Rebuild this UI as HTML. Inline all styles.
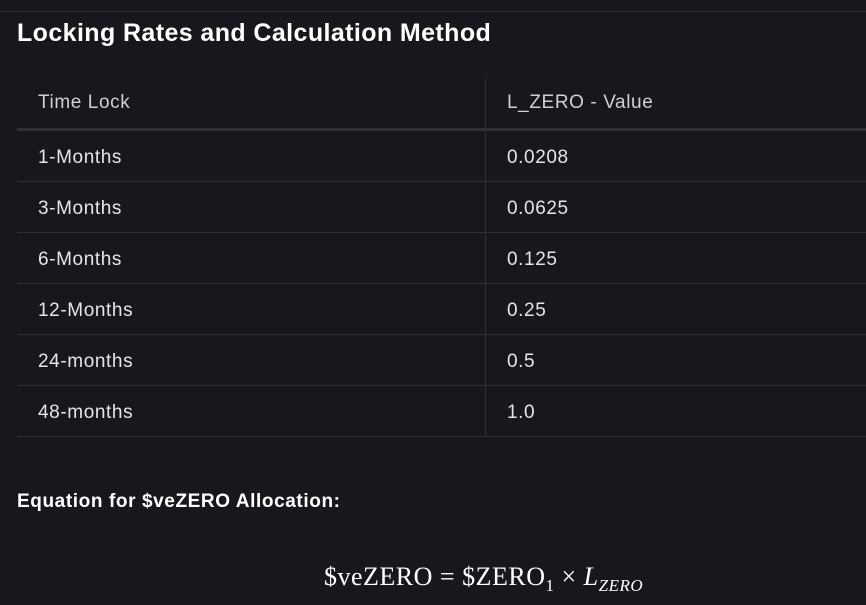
<!DOCTYPE html>
<html><head><style>
body{margin:0;width:866px;height:605px;background:#16181d;overflow:hidden;font-family:"Liberation Sans",sans-serif;color:#e6e6e6;position:relative}
.top{position:absolute;left:0;top:11px;width:866px;height:1px;background:#2e3138}
h1{position:absolute;left:17px;top:19px;margin:0;font-size:25px;font-weight:bold;color:#fff;letter-spacing:0.4px}
.vl{position:absolute;left:485px;top:78px;width:1px;height:358px;background:#2e3138}
.row{position:absolute;left:17px;width:849px;height:51px;border-bottom:1px solid #2e3138}
.row span{position:absolute;top:17px;font-size:19px;letter-spacing:0.6px}
.c1{left:21px}.c2{left:490px}
.hd{top:78px;height:50px;border-bottom:3px solid #2e3138;color:#cfd0d3}
.hd span{top:14px}
h2{position:absolute;left:17px;top:491px;margin:0;font-size:19px;font-weight:bold;color:#fff;letter-spacing:0.6px}
.eq{position:absolute;left:324px;top:562px;font-family:"Liberation Serif",serif;font-size:26px;color:#fff;white-space:nowrap;letter-spacing:0.5px}
.eq i{font-style:italic}
.eq sub{font-size:17px}
</style></head><body>
<div class="top"></div>
<h1>Locking Rates and Calculation Method</h1>
<div class="row hd"><span class="c1">Time Lock</span><span class="c2">L_ZERO - Value</span></div>
<div class="row" style="top:130px"><span class="c1">1-Months</span><span class="c2">0.0208</span></div>
<div class="row" style="top:181px"><span class="c1">3-Months</span><span class="c2">0.0625</span></div>
<div class="row" style="top:232px"><span class="c1">6-Months</span><span class="c2">0.125</span></div>
<div class="row" style="top:283px"><span class="c1">12-Months</span><span class="c2">0.25</span></div>
<div class="row" style="top:334px"><span class="c1">24-months</span><span class="c2">0.5</span></div>
<div class="row" style="top:385px"><span class="c1">48-months</span><span class="c2">1.0</span></div>
<div class="vl"></div>
<h2>Equation for $veZERO Allocation:</h2>
<div class="eq">$veZERO = $ZERO<sub>1</sub> × <i>L<sub>ZERO</sub></i></div>
</body></html>
